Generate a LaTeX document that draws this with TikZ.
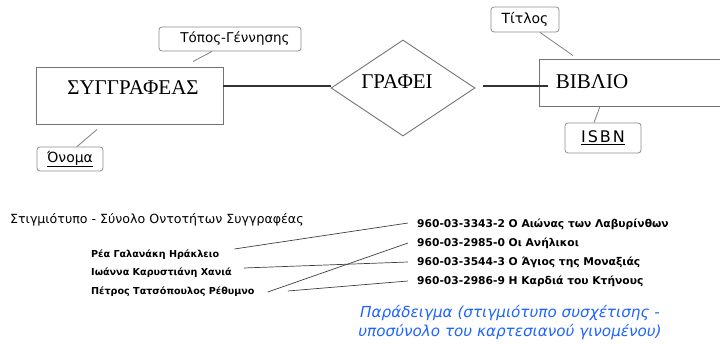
\documentclass[tikz,border=0pt]{standalone}
\usepackage{fontspec}
\setmainfont{Liberation Serif}
\newfontfamily\comicfont{DejaVu Sans}
\usetikzlibrary{shapes.geometric}
\definecolor{exblue}{RGB}{30,100,255}
\begin{document}
\begin{tikzpicture}[x=1pt,y=-1pt,
  entity/.style={draw=black!55,line width=0.9pt,rectangle,inner sep=0pt},
  reln/.style={draw=black!55,line width=0.9pt,diamond,inner sep=0pt},
  attr/.style={draw=black!45,line width=0.8pt,rectangle,rounded corners=3pt,inner sep=0pt,
    font=\comicfont\fontsize{14}{16}\selectfont},
  ename/.style={font=\fontsize{21}{23}\selectfont,inner sep=0pt},
  link/.style={draw=black!80,line width=1.4pt},
  alink/.style={draw=black!50,line width=0.8pt},
  inst/.style={font=\comicfont\bfseries\fontsize{9.6}{11}\selectfont,anchor=west,inner sep=0pt},
  isbn/.style={font=\comicfont\bfseries\fontsize{10.7}{12}\selectfont,anchor=west,inner sep=0pt},
  ilink/.style={draw=black!75,line width=0.7pt}]
\useasboundingbox (0,0) rectangle (720,344);
% er diagram
\node[entity,minimum width=187,minimum height=57] (author) at (129.5,95.5) {};
\node[ename] at (133,88) {ΣΥΓΓΡΑΦΕΑΣ};
\node[reln,minimum width=144,minimum height=96] (rel) at (403,88) {};
\node[ename] at (397,82) {ΓΡΑΦΕΙ};
\node[entity,draw=none,minimum width=180,minimum height=46] (book) at (630,83) {};
\draw[black!55,line width=0.9pt] (book.north east) -- (book.north west)
  -- (book.south west) -- (book.south east);
\node[ename] at (592,82) {ΒΙΒΛΙΟ};
\draw[link] ([yshift=9.5pt]author.east) -- ([yshift=9.5pt]author.east -| rel.west);
\draw[link] ([xshift=8pt,yshift=2pt]rel.east) -- ([xshift=8pt,yshift=2pt]rel.east -| book.west);
% attributes
\node[attr,minimum width=142,minimum height=24] (place) at (230,39)
  {\hspace*{10pt}\fontsize{13.5}{16}\selectfont Τόπος-Γέννησης};
\node[attr,minimum width=66,minimum height=24] (name) at (70,159) {\underline{Όνομα}};
\node[attr,minimum width=68,minimum height=25] (title) at (525,19.5) {Τίτλος};
\node[attr,minimum width=76,minimum height=30] (isbnkey) at (603,138)
  {\fontsize{16}{18}\selectfont\addfontfeatures{LetterSpace=12}\underline{ISBN}};
\draw[alink] ([xshift=-18pt]place.south) -- ([xshift=63.5pt,yshift=5pt]author.north);
\draw[alink] ([xshift=-32.5pt,yshift=-5pt]author.south) -- ([xshift=7pt]name.north);
\draw[alink] ([xshift=15pt]title.south) -- ([xshift=-57pt,yshift=4pt]book.north);
\draw[alink] ([xshift=-30pt]book.south) -- ([xshift=-9pt]isbnkey.north);
% instances
\node[font=\comicfont\fontsize{12.6}{14}\selectfont,anchor=west,inner sep=0pt] (head) at (10,220)
  {Στιγμιότυπο - Σύνολο Οντοτήτων Συγγραφέας};
\node[inst] (rea) at (91,255) {Ρέα Γαλανάκη Ηράκλειο};
\node[inst] (ioanna) at (91,273) {Ιωάννα Καρυστιάνη Χανιά};
\node[inst] (petros) at (91,292) {Πέτρος Τατσόπουλος Ρέθυμνο};
\node[isbn] (b1) at (417,224) {960-03-3343-2 Ο Αιώνας των Λαβυρίνθων};
\node[isbn] (b2) at (417,243) {960-03-2985-0 Οι Ανήλικοι};
\node[isbn] (b3) at (417,262) {960-03-3544-3 Ο Άγιος της Μοναξιάς};
\node[isbn] (b4) at (417,281) {960-03-2986-9 Η Καρδιά του Κτήνους};
\draw[ilink] ([xshift=15pt,yshift=6pt]rea.east) -- ([xshift=-9pt,yshift=1pt]b1.west);
\draw[ilink] ([xshift=12pt,yshift=5pt]ioanna.east) -- ([xshift=-9pt]b3.west);
\draw[ilink] ([xshift=13pt]petros.east) -- ([xshift=-9pt]b2.west);
\draw[ilink] ([xshift=33pt,yshift=1pt]petros.east) -- ([xshift=-9pt]b4.west);
\node[font=\comicfont\itshape\fontsize{15.2}{19}\selectfont,text=exblue,align=center,inner sep=0pt] (note) at (510,322.5)
  {Παράδειγμα (στιγμιότυπο συσχέτισης -\\υποσύνολο του καρτεσιανού γινομένου)};
\end{tikzpicture}
\end{document}
